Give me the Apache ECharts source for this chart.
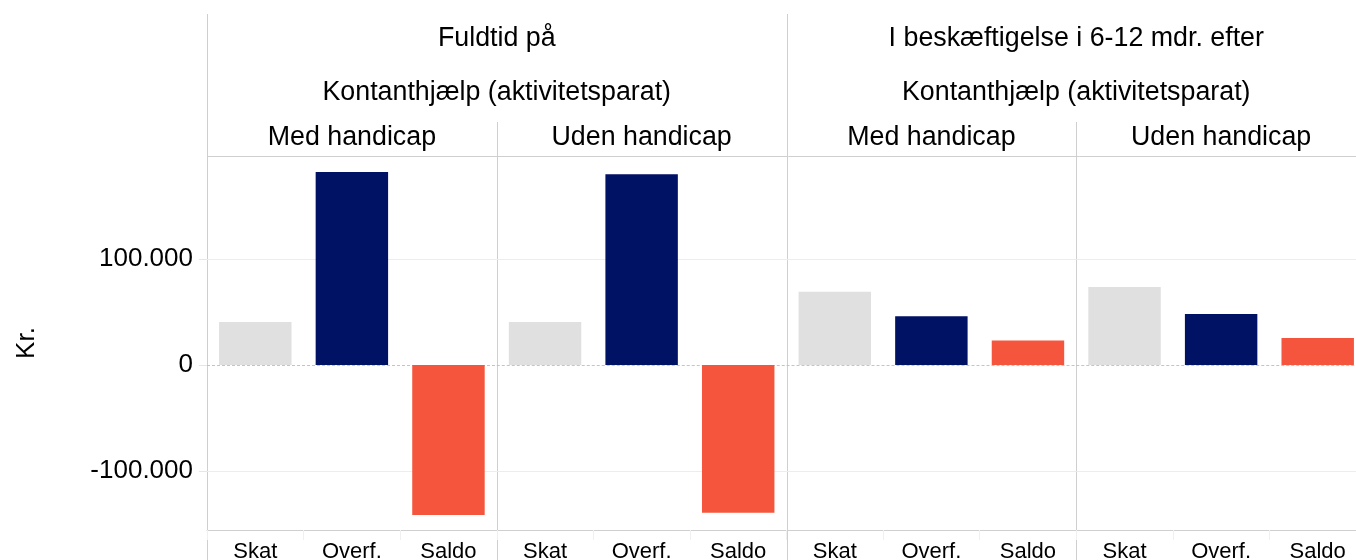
<!DOCTYPE html>
<html>
<head>
<meta charset="utf-8">
<script src="https://cdn.jsdelivr.net/npm/echarts@6/dist/echarts.min.js"></script>
<style>
  html, body { margin: 0; padding: 0; background: #fff; overflow: hidden; }
  #chart { width: 1370px; height: 560px; }
</style>
</head>
<body>
<div id="chart"></div>
<script>
// categories on each panel's x axis
const categories = ['Skat', 'Overf.', 'Saldo'];

// panel headers
const panelTitles = ['Med handicap', 'Uden handicap', 'Med handicap', 'Uden handicap'];
const groupTitles = [
  ['Fuldtid på', 'Kontanthjælp (aktivitetsparat)'],
  ['I beskæftigelse i 6-12 mdr. efter', 'Kontanthjælp (aktivitetsparat)']
];

// values in kr. (Skat, Overf., Saldo)
const fuldtidMed = [40500, 182000, -141500];
const fuldtidUden = [40500, 180000, -139500];
const beskMed = [69000, 46000, 23000];
const beskUden = [73500, 48000, 25500];
const panelValues = [fuldtidMed, fuldtidUden, beskMed, beskUden];

// y axis ticks
const yTicks = [-100000, 0, 100000];

const barColors = ['#e0e0e0', '#001263', '#f5553c'];

// layout (the last panel runs past the right edge of the picture)
const FONT = '"Liberation Sans", Arial, sans-serif';
const plotLeft = 207;
const panelW = 289.75;
const plotTop = 156;
const plotH = 374;
const yMin = -155700;
const yMax = 197200;
const lineColor = '#cfcfcf';

// 100000 -> 100.000
function fmt(v) {
  const s = String(Math.abs(v)).replace(/\B(?=(\d{3})+(?!\d))/g, '.');
  return (v < 0 ? '-' : '') + s;
}

const grids = [], xAxes = [], yAxes = [], series = [];
panelValues.forEach((vals, i) => {
  grids.push({ left: plotLeft + panelW * i, width: panelW, top: plotTop, height: plotH, outerBoundsMode: 'none' });
  xAxes.push({
    type: 'category',
    gridIndex: i,
    data: categories,
    axisLine: { show: true, onZero: false, lineStyle: { color: lineColor } },
    axisTick: { show: true, length: 10, lineStyle: { color: '#f0f0f0' } },
    axisLabel: { fontSize: 22, color: '#000', fontFamily: FONT, margin: 11 }
  });
  yAxes.push({
    type: 'value',
    gridIndex: i,
    min: yMin,
    max: yMax,
    name: i === 0 ? 'Kr.' : '',
    nameLocation: 'middle',
    nameRotate: 90,
    nameGap: 167,
    nameTextStyle: { fontSize: 26, color: '#000', fontFamily: FONT },
    axisLine: { show: false },
    splitLine: { show: false },
    axisTick: { show: i === 0, length: 8, customValues: yTicks, lineStyle: { color: '#e6e6e6' } },
    axisLabel: {
      show: i === 0,
      customValues: yTicks,
      fontSize: 26,
      color: '#000',
      fontFamily: FONT,
      margin: 14,
      formatter: fmt
    }
  });
  series.push({
    type: 'bar',
    xAxisIndex: i,
    yAxisIndex: i,
    barWidth: '75%',
    z: 2,
    data: vals.map((v, k) => ({ value: v, itemStyle: { color: barColors[k] } })),
    markLine: {
      silent: true,
      symbol: 'none',
      z: 1,
      label: { show: false },
      data: yTicks.map(v => ({
        yAxis: v,
        lineStyle: v === 0
          ? { type: [3, 2], color: '#c4c4c4', width: 1 }
          : { type: 'solid', color: '#ededed', width: 1 }
      }))
    }
  });
});

// strip headers and frame lines
const graphic = [];
function vline(x, y1, y2) {
  graphic.push({ type: 'line', silent: true, shape: { x1: x + 0.5, y1: y1, x2: x + 0.5, y2: y2 }, style: { stroke: lineColor, lineWidth: 1 } });
}
function text(x, y, t) {
  graphic.push({ type: 'text', silent: true, x: x, y: y,
    style: { text: t, fill: '#000', font: '26.8px ' + FONT, textAlign: 'center', textVerticalAlign: 'middle' } });
}
vline(207, 14, 560);
vline(787, 14, 560);
vline(497, 122, 560);
vline(1076, 122, 560);
graphic.push({ type: 'line', silent: true, shape: { x1: 207, y1: plotTop + 0.5, x2: 1370, y2: plotTop + 0.5 }, style: { stroke: lineColor, lineWidth: 1 } });
groupTitles.forEach((g, j) => {
  const cx = plotLeft + panelW * (2 * j + 1);
  text(cx, 39, g[0]);
  text(cx, 93, g[1]);
});
panelTitles.forEach((t, i) => {
  text(plotLeft + panelW * (i + 0.5), 138, t);
});

const chart = echarts.init(document.getElementById('chart'));
chart.setOption({
  animation: false,
  backgroundColor: '#fff',
  grid: grids,
  xAxis: xAxes,
  yAxis: yAxes,
  series: series,
  graphic: graphic
});
</script>
</body>
</html>
